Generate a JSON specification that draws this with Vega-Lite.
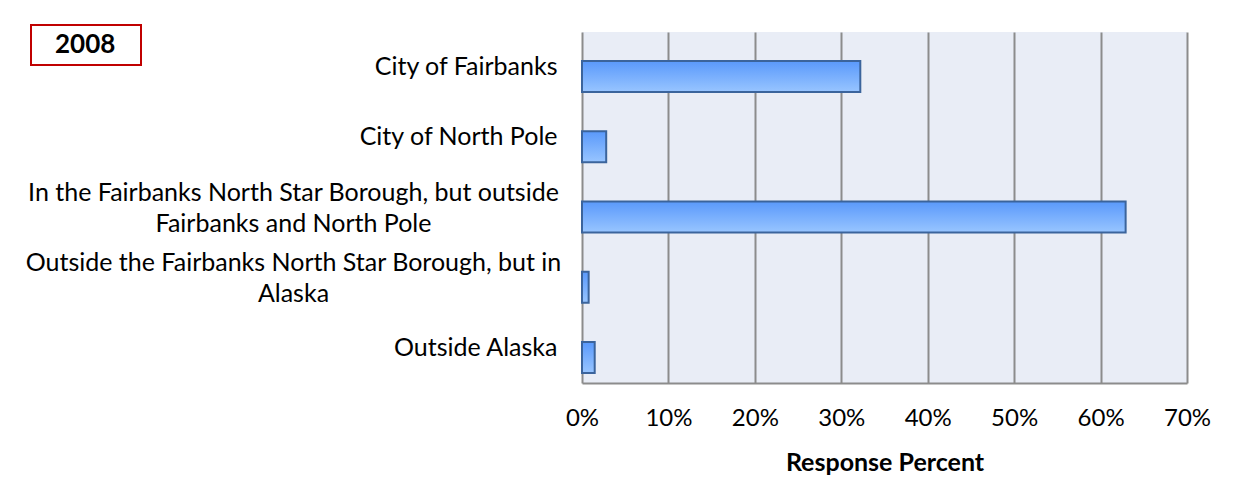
{
  "$schema": "https://vega.github.io/schema/vega-lite/v6.json",
  "width": 605,
  "height": 351,
  "autosize": {"type": "none"},
  "padding": {"left": 582, "top": 32, "right": 50, "bottom": 120},
  "background": "#ffffff",
  "data": {
    "values": [
      {"location": "City of Fairbanks", "share": 0.322, "year": "2008"},
      {"location": "City of North Pole", "share": 0.028, "year": "2008"},
      {"location": "In the Fairbanks North Star Borough, but outside\nFairbanks and North Pole", "share": 0.629, "year": "2008"},
      {"location": "Outside the Fairbanks North Star Borough, but in\nAlaska", "share": 0.0077, "year": "2008"},
      {"location": "Outside Alaska", "share": 0.0147, "year": "2008"}
    ]
  },
  "mark": {
    "type": "bar",
    "height": 31,
    "yOffset": 9.5,
    "strokeWidth": 2,
    "fill": {
      "gradient": "linear",
      "x1": 0, "y1": 0, "x2": 0, "y2": 1,
      "stops": [
        {"offset": 0, "color": "#5a99fb"},
        {"offset": 1, "color": "#98c5ff"}
      ]
    }
  },
  "encoding": {
    "y": {
      "field": "location",
      "type": "nominal",
      "sort": null,
      "scale": {"paddingInner": 0, "paddingOuter": 0},
      "axis": {
        "title": null,
        "domain": false,
        "ticks": false,
        "labelFont": "Lato",
        "labelFontSize": 25,
        "labelColor": "#000000",
        "labelLimit": 700,
        "labelLineHeight": 31,
        "labelExpr": "split(datum.label, '\\n')",
        "labelAlign": {"condition": {"test": "indexof(datum.value, '\\n') >= 0", "value": "center"}, "value": "right"},
        "labelPadding": {"condition": {"test": "indexof(datum.value, '\\n') >= 0", "value": 289}, "value": 25},
        "labelOffset": {"condition": {"test": "indexof(datum.value, '\\n') >= 0", "value": -15}, "value": 0}
      }
    },
    "x": {
      "field": "share",
      "type": "quantitative",
      "scale": {"domain": [0, 0.7], "nice": false},
      "axis": {
        "title": "Response Percent",
        "format": ".0%",
        "values": [0, 0.1, 0.2, 0.3, 0.4, 0.5, 0.6, 0.7],
        "grid": true,
        "gridColor": "#8c8c8c",
        "gridWidth": 2,
        "domainColor": "#8c8c8c",
        "domainWidth": 2,
        "ticks": false,
        "labelFlush": false,
        "labelFont": "Lato",
        "labelFontSize": 24,
        "labelColor": "#000000",
        "labelPadding": 23,
        "titleFont": "Lato",
        "titleFontSize": 25,
        "titleFontWeight": "bold",
        "titleColor": "#000000",
        "titlePadding": 20
      }
    },
    "stroke": {
      "field": "year",
      "type": "nominal",
      "scale": {"range": ["#3b649c"]},
      "legend": {
        "title": ".",
        "titleOrient": "right",
        "titleFontSize": 6,
        "titleOpacity": 0,
        "titlePadding": 17,
        "orient": "none",
        "legendX": -551,
        "legendY": -7,
        "strokeColor": "#c00000",
        "padding": 7,
        "symbolSize": 81,
        "symbolOpacity": 0,
        "symbolStrokeWidth": 0,
        "labelOffset": -9,
        "labelFont": "Lato",
        "labelFontSize": 26,
        "labelFontWeight": "bold",
        "labelColor": "#000000"
      }
    }
  },
  "config": {
    "view": {"fill": "#e9edf6", "stroke": null},
    "legend": {"strokeWidth": 2}
  }
}
